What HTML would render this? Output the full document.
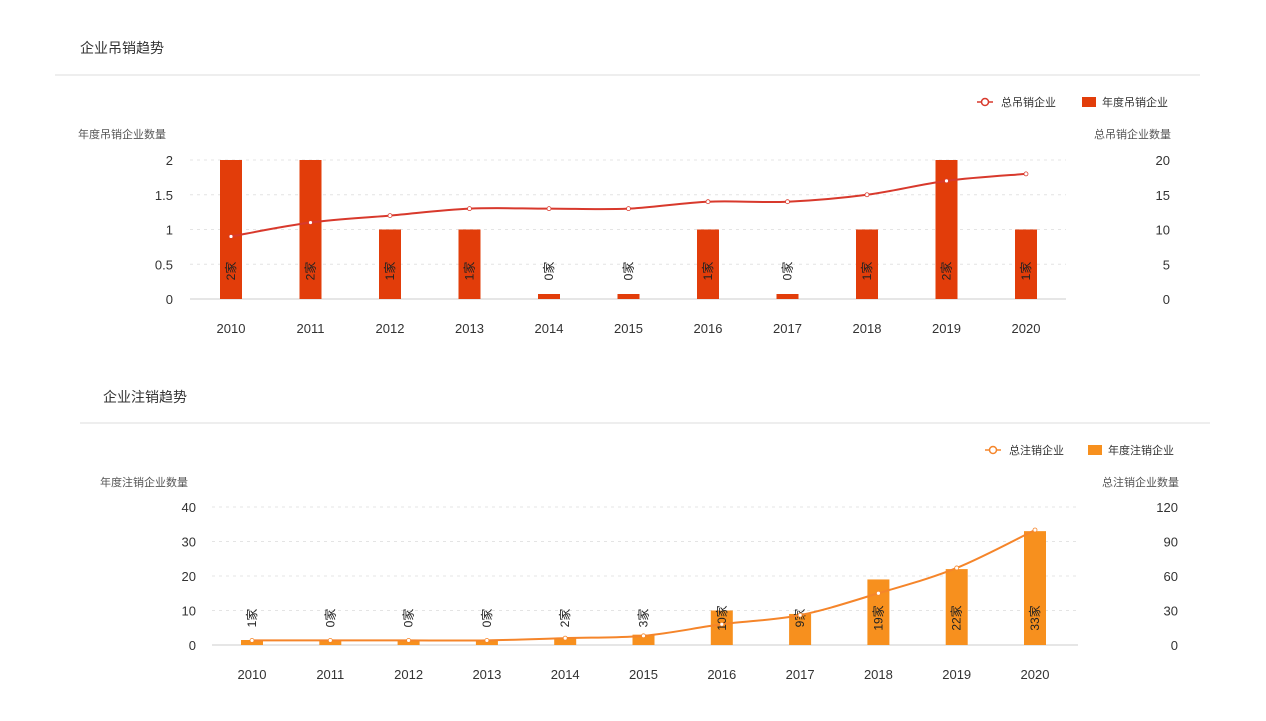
<!DOCTYPE html>
<html><head><meta charset="utf-8"><style>
html,body{margin:0;padding:0;background:#fff;}
svg{display:block;font-family:"Liberation Sans","Noto Sans CJK SC",sans-serif;}
</style></head><body>
<svg id="s" width="1266" height="721" xmlns="http://www.w3.org/2000/svg">
<rect width="1266" height="721" fill="#fff"/>
<text x="80" y="53" font-size="14" fill="#333">企业吊销趋势</text>
<line x1="55" y1="75" x2="1200" y2="75" stroke="#eee" stroke-width="2"/>
<text x="103" y="402" font-size="14" fill="#333">企业注销趋势</text>
<line x1="80" y1="423" x2="1210" y2="423" stroke="#eee" stroke-width="2"/>
<g id="g"></g>
</svg>
<script>
var g=document.getElementById('g'),h='';
function T(x,y,t,o){o=o||{};h+='<text x="'+x+'" y="'+y+'" font-size="'+(o.fs||12)+'" fill="'+(o.c||'#333')+'" text-anchor="'+(o.a||'middle')+'"'+(o.tr?' transform="'+o.tr+'"':'')+'>'+t+'</text>';}
function smooth(p){var d='M'+p[0][0]+','+p[0][1];for(var i=0;i<p.length-1;i++){var p0=p[i-1]||p[i],p1=p[i],p2=p[i+1],p3=p[i+2]||p2;var k=6;d+=' C'+(p1[0]+(p2[0]-p0[0])/k)+','+(p1[1]+(p2[1]-p0[1])/k)+' '+(p2[0]-(p3[0]-p1[0])/k)+','+(p2[1]-(p3[1]-p1[1])/k)+' '+p2[0]+','+p2[1];}return d;}
function chart(c){
 var x0=c.x0,dx=c.dx;
 for(var i=0;i<c.lt.length;i++){var y=c.y0-i*c.step;h+='<line x1="'+c.gx1+'" y1="'+y+'" x2="'+c.gx2+'" y2="'+y+'" stroke="'+(i==0?'#e6e6e6':'#e4e4e4')+'" stroke-width="'+(i==0?2:1)+'" '+(i==0?'':'stroke-dasharray="3,4"')+'/>';
  T(c.lx,y+5,c.lt[i],{a:'end',fs:13});T(c.rx,y+5,c.rt[i],{a:'end',fs:13});}
 T(c.lnx,c.ty,c.lname,{a:'start',fs:11,c:'#555'});T(c.rnx,c.ty,c.rname,{a:'end',fs:11,c:'#555'});
 var pts=[];
 for(var i=0;i<11;i++){var x=x0+i*dx;var bh=c.bars[i]*c.bs;if(bh<5)bh=5;
  h+='<rect x="'+(x-11)+'" y="'+(c.y0-bh)+'" width="22" height="'+bh+'" fill="'+c.col+'"/>';
  T(x,c.y0+34,2010+i,{fs:13});
  T(0,0,c.bars[i]+'家',{fs:12,c:'#222',tr:'translate('+(x+4)+','+c.labY+') rotate(-90)'});
  pts.push([x,c.y0-c.line[i]*c.ls]);}
 h+='<path d="'+smooth(pts)+'" fill="none" stroke="'+c.lc+'" stroke-width="2"/>';
 pts.forEach(function(p){h+='<circle cx="'+p[0]+'" cy="'+p[1]+'" r="2" fill="#fff" stroke="'+c.lc+'" stroke-width="0.8"/>';});
 var L=c.leg;h+='<line x1="'+(L.x-8)+'" y1="'+L.y+'" x2="'+(L.x+8)+'" y2="'+L.y+'" stroke="'+c.lc+'" stroke-width="1.5"/><circle cx="'+L.x+'" cy="'+L.y+'" r="3.5" fill="#fff" stroke="'+c.lc+'" stroke-width="1.5"/>';
 T(L.x+16,L.y+4,L.t1,{a:'start',fs:11});
 h+='<rect x="'+(L.x2)+'" y="'+(L.y-5)+'" width="14" height="10" fill="'+c.col+'"/>';
 T(L.x2+20,L.y+4,L.t2,{a:'start',fs:11});
}
chart({x0:231,dx:79.5,y0:299,step:34.75,gx1:190,gx2:1066,lt:['0','0.5','1','1.5','2'],rt:['0','5','10','15','20'],lx:173,rx:1170,ty:138,lnx:78,rnx:1171,lname:'年度吊销企业数量',rname:'总吊销企业数量',
 bars:[2,2,1,1,0,0,1,0,1,2,1],bs:69.5,col:'#e23d0a',line:[9,11,12,13,13,13,14,14,15,17,18],ls:6.95,lc:'#d8392c',
 labY:271,leg:{x:985,y:102,t1:'总吊销企业',x2:1082,t2:'年度吊销企业'}});
chart({x0:252,dx:78.3,y0:645,step:34.5,gx1:212,gx2:1078,lt:['0','10','20','30','40'],rt:['0','30','60','90','120'],lx:196,rx:1178,ty:486,lnx:100,rnx:1179,lname:'年度注销企业数量',rname:'总注销企业数量',
 bars:[1,0,0,0,2,3,10,9,19,22,33],bs:3.45,col:'#f7901e',line:[4,4,4,4,6,8,18,26,45,67,100],ls:1.15,lc:'#f5852a',
 labY:618,leg:{x:993,y:450,t1:'总注销企业',x2:1088,t2:'年度注销企业'}});
g.innerHTML=h;
</script>
</body></html>
